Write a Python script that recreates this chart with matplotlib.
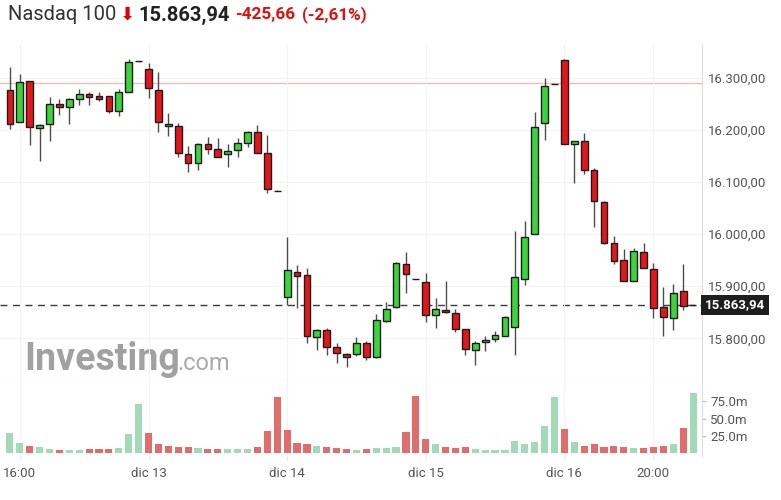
import numpy as np
import matplotlib.pyplot as plt
import matplotlib.transforms as mtransforms
from matplotlib.ticker import FuncFormatter

plt.rcParams['font.family'] = ['Roboto', 'DejaVu Sans']

# 30 min candles, dic 12 - dic 16
opens = [16276.7, 16215.9, 16294.0, 16204.4, 16211.5, 16250.4, 16244.7, 16258.9, 16269.6, 16264.6,
         16264.6, 16237.0, 16273.5, 16331.8, 16317.1, 16276.7, 16207.0, 16207.0, 16154.4, 16137.2,
         16173.6, 16163.5, 16153.3, 16160.9, 16175.6, 16195.5, 16155.2, 16083.4, 15879.9, 15926.7,
         15921.5, 15803.1, 15815.9, 15783.9, 15769.8, 15769.3, 15791.6, 15763.5, 15833.8, 15859.5,
         15942.1, 15913.8, 15908.7, 15844.7, 15854.3, 15849.1, 15817.9, 15777.5, 15792.3, 15798.6,
         15805.0, 15822.3, 15913.9, 15999.3, 16214.0, 16288.3, 16334.3, 16172.5, 16178.8, 16123.1,
         16061.1, 15982.4, 15950.3, 15910.6, 15965.1, 15933.6, 15859.5, 15839.6, 15890.8, 15863.94]
highs = [16321.5, 16307.5, 16294.0, 16211.5, 16263.9, 16259.5, 16261.4, 16278.7, 16272.3, 16272.9,
         16264.6, 16278.7, 16335.7, 16332.5, 16328.0, 16311.9, 16232.0, 16212.8, 16169.8, 16175.0,
         16187.1, 16184.0, 16173.0, 16184.0, 16198.0, 16209.5, 16190.3, 16084.0, 15993.9, 15940.7,
         15934.4, 15818.0, 15819.2, 15790.4, 15772.4, 15801.9, 15794.8, 15846.0, 15870.3, 15946.5,
         15966.3, 15914.4, 15924.8, 15876.8, 15910.6, 15855.7, 15817.9, 15795.4, 15804.4, 15814.6,
         15842.8, 16006.6, 16025.8, 16233.9, 16299.2, 16288.9, 16336.3, 16178.8, 16194.8, 16126.4,
         16064.2, 15997.0, 15971.5, 15973.9, 15983.6, 15944.0, 15899.1, 15903.7, 15942.1, 15863.94]
lows = [16201.9, 16215.0, 16171.1, 16140.4, 16178.8, 16228.7, 16211.5, 16247.9, 16247.9, 16255.0,
        16233.2, 16226.8, 16273.5, 16331.2, 16262.0, 16196.7, 16188.4, 16147.5, 16118.7, 16123.1,
        16153.9, 16148.0, 16128.3, 16147.5, 16166.7, 16155.8, 16078.4, 16082.8, 15863.9, 15857.6,
        15790.4, 15777.6, 15767.9, 15752.0, 15745.6, 15766.0, 15758.3, 15761.6, 15831.8, 15857.6,
        15886.4, 15913.2, 15831.8, 15819.2, 15848.0, 15811.5, 15767.9, 15748.7, 15775.6, 15792.3,
        15804.4, 15767.9, 15902.3, 15999.3, 16180.7, 16287.7, 16172.5, 16098.8, 16115.4, 16013.1,
        15980.5, 15942.6, 15910.6, 15910.6, 15935.5, 15839.6, 15804.4, 15815.9, 15854.3, 15863.94]
closes = [16211.5, 16291.5, 16206.3, 16209.0, 16250.4, 16244.7, 16259.5, 16269.6, 16263.9, 16258.9,
          16237.0, 16272.3, 16329.9, 16331.8, 16280.6, 16215.9, 16212.0, 16156.3, 16137.2, 16173.6,
          16162.9, 16148.7, 16159.6, 16174.4, 16195.5, 16156.3, 16086.1, 16083.4, 15931.1, 15920.2,
          15805.0, 15815.9, 15783.9, 15772.4, 15764.7, 15791.6, 15763.5, 15835.1, 15856.2, 15944.0,
          15923.5, 15913.8, 15844.7, 15856.2, 15849.9, 15817.9, 15779.4, 15791.6, 15796.7, 15806.3,
          15841.5, 15917.1, 15995.1, 16205.1, 16284.4, 16288.3, 16172.5, 16178.8, 16123.1, 16064.2,
          15982.4, 15949.0, 15910.6, 15967.0, 15935.5, 15857.6, 15841.5, 15887.6, 15862.5, 15863.94]
volumes = [28.4, 13.7, 9.8, 7.8, 5.9, 4.4, 4.4, 4.4, 4.9, 4.9,
           4.9, 6.4, 26.5, 70.6, 28.4, 11.8, 9.8, 7.8, 7.8, 6.4,
           4.9, 4.9, 4.9, 4.9, 4.9, 7.8, 31.9, 81.9, 33.8, 13.7,
           11.8, 9.8, 7.8, 6.4, 4.9, 4.4, 4.9, 6.4, 6.4, 7.8,
           30.4, 83.3, 20.6, 11.8, 7.8, 6.4, 7.8, 5.9, 4.4, 4.4,
           4.4, 17.2, 11.8, 15.7, 39.2, 81.9, 34.3, 15.7, 9.8, 11.8,
           7.8, 9.8, 7.8, 6.4, 6.4, 7.8, 9.8, 11.8, 35.8, 86.8]
prev_ref = 16150.0          # close before the first bar (colours first volume bar)
prev_close = 16289.60
last_price = 15863.94

price_ticks = [15800, 15900, 16000, 16100, 16200, 16300]
vol_ticks = [25, 50, 75]
xtick_pos = [1, 14, 28, 42, 56, 65]
xtick_labels = ['16:00', 'dic 13', 'dic 14', 'dic 15', 'dic 16', '20:00']

o = np.array(opens); h = np.array(highs); l = np.array(lows); c = np.array(closes)
v = np.array(volumes)
x = np.arange(len(c))

W, H = 781, 500
fig = plt.figure(figsize=(W / 100, H / 100), dpi=100)

def box(left, top, right, bottom):
    return [left / W, 1 - bottom / H, (right - left) / W, (bottom - top) / H]

ax = fig.add_axes(box(0, 45, 702, 381))
axv = fig.add_axes(box(0, 381, 702, 456), sharex=ax)

def es_fmt(val, _=None):
    return f"{val:,.2f}".replace(',', 'X').replace('.', ',').replace('X', '.')

# candles
up = c >= o
body_col = np.where(up, '#3cd43c', '#e3161b')
ax.vlines(x, l, h, color='#4d4d4d', lw=1, zorder=2)
ax.bar(x, np.abs(c - o), bottom=np.minimum(o, c), width=0.68, color=body_col,
       edgecolor='#1c1c1c', linewidth=1, zorder=3)

ax.axhline(prev_close, color='#f6b8b8', lw=1, zorder=1)
ax.axhline(last_price, color='#3a3a3a', lw=1, ls=(0, (5, 4)), zorder=1.5)

ax.set_xlim(-1.0, 69.9)
ax.set_ylim(15718, 16363)
ax.set_yticks(price_ticks)
ax.yaxis.set_major_formatter(FuncFormatter(es_fmt))
ax.yaxis.tick_right()
ax.tick_params(axis='y', length=0, pad=4, labelsize=9.5, labelcolor='#555555')
ax.tick_params(axis='x', length=0, labelbottom=False)
ax.set_xticks(xtick_pos)
ax.grid(True, color='#f3f3f3', lw=0.8, zorder=0)
for s in ['left', 'top']:
    ax.spines[s].set_visible(False)
ax.spines['right'].set_color('#dddddd')
ax.spines['bottom'].set_color('#cccccc')

# current price tag
tr = mtransforms.blended_transform_factory(ax.transAxes, ax.transData)
ax.text(1.004, last_price, es_fmt(last_price), transform=tr, ha='left', va='center',
        color='white', fontsize=9.5, fontweight='bold', clip_on=False,
        bbox=dict(boxstyle='square,pad=0.28', fc='#1e1e1e', ec='none'))

# watermark
ax.text(0.035, 0.033, 'Investing', transform=ax.transAxes, fontsize=27, fontweight='bold',
        color='#8a8a8a', alpha=0.8, va='baseline', zorder=0.5)
ax.text(0.252, 0.033, '.com', transform=ax.transAxes, fontsize=17,
        color='#959595', alpha=0.8, va='baseline', zorder=0.5)

# volume
ref = np.concatenate([[prev_ref], c[:-1]])
vol_col = np.where(c >= ref, '#a2d9b9', '#e06d6d')
axv.bar(x, v, width=0.72, color=vol_col, zorder=2)
axv.set_ylim(-5.1, 105.1)
axv.set_yticks(vol_ticks)
axv.yaxis.set_major_formatter(FuncFormatter(lambda val, _: f"{val:.1f}m"))
axv.yaxis.tick_right()
axv.tick_params(axis='y', length=3, color='#bbbbbb', pad=3, labelsize=9.5, labelcolor='#555555')
axv.set_xticks(xtick_pos)
axv.set_xticklabels(xtick_labels)
axv.tick_params(axis='x', length=3, color='#e6e6e6', pad=5, labelsize=9.5, labelcolor='#555555')
axv.grid(True, axis='x', color='#f3f3f3', lw=0.8, zorder=0)
for s in ['left', 'top', 'bottom']:
    axv.spines[s].set_visible(False)
axv.spines['right'].set_color('#dddddd')

# header
ty = 1 - 15 / H
fig.text(8 / W, ty, 'Nasdaq 100', fontsize=14.5, color='#333333', va='center')
fig.text(120 / W, ty, '\u2b07', fontsize=13, color='#e00000', va='center', family='DejaVu Sans')
fig.text(138 / W, ty, '15.863,94', fontsize=14.5, fontweight='bold', color='#222222', va='center')
fig.text(235 / W, ty, '-425,66', fontsize=12.3, fontweight='bold', color='#e01010', va='center')
fig.text(302 / W, ty, '(-2,61%)', fontsize=12.3, fontweight='bold', color='#e01010', va='center')

fig.savefig('out.png', dpi=100)
